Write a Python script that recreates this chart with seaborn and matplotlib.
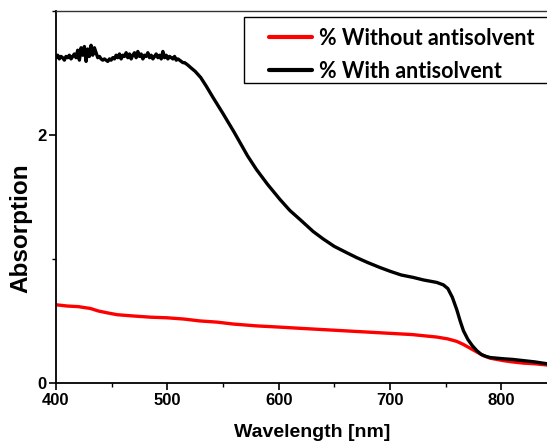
import numpy as np
import pandas as pd
import seaborn as sns
import matplotlib.pyplot as plt
from matplotlib.ticker import MultipleLocator
from matplotlib.lines import Line2D
from matplotlib.patches import Rectangle

# ---- data ----
# noisy plateau, 400-520 nm (1.5 nm steps)
wl_plateau = [400.0, 401.5, 403.0, 404.5, 406.0, 407.5, 409.0, 410.5, 412.0, 413.5,
              415.0, 416.5, 418.0, 419.5, 421.0, 422.5, 424.0, 425.5, 427.0, 428.5,
              430.0, 431.5, 433.0, 434.5, 436.0, 437.5, 439.0, 440.5, 442.0, 443.5,
              445.0, 446.5, 448.0, 449.5, 451.0, 452.5, 454.0, 455.5, 457.0, 458.5,
              460.0, 461.5, 463.0, 464.5, 466.0, 467.5, 469.0, 470.5, 472.0, 473.5,
              475.0, 476.5, 478.0, 479.5, 481.0, 482.5, 484.0, 485.5, 487.0, 488.5,
              490.0, 491.5, 493.0, 494.5, 496.0, 497.5, 499.0, 500.5, 502.0, 503.5,
              505.0, 506.5, 508.0, 509.5, 511.0, 512.5, 514.0, 515.5, 517.0, 518.5]
abs_plateau = [2.62, 2.64, 2.61, 2.63, 2.62, 2.60, 2.63, 2.62, 2.64, 2.61,
               2.63, 2.65, 2.62, 2.68, 2.60, 2.70, 2.64, 2.71, 2.59, 2.69,
               2.63, 2.72, 2.64, 2.70, 2.66, 2.62, 2.63, 2.61, 2.60, 2.61,
               2.60, 2.59, 2.61, 2.60, 2.62, 2.61, 2.64, 2.62, 2.65, 2.61,
               2.64, 2.63, 2.66, 2.62, 2.65, 2.61, 2.64, 2.66, 2.62, 2.67,
               2.63, 2.65, 2.61, 2.64, 2.63, 2.66, 2.62, 2.64, 2.61, 2.63,
               2.65, 2.62, 2.64, 2.61, 2.67, 2.62, 2.64, 2.61, 2.63, 2.62,
               2.61, 2.63, 2.60, 2.61, 2.60, 2.59, 2.58, 2.58, 2.57, 2.56]
# smooth part, 520-846 nm
wl_tail = [521, 525, 530, 535, 541, 550, 560, 572, 580, 590, 601, 610, 620, 631, 640, 650,
           661, 670, 680, 691, 700, 710, 721, 730, 742, 748, 752, 756, 760, 763,
           766, 770, 774, 778, 782, 786, 790, 796, 802, 810, 820, 830, 841, 846]
abs_tail = [2.54, 2.51, 2.46, 2.39, 2.30, 2.17, 2.02, 1.83, 1.72, 1.60, 1.48, 1.39, 1.31, 1.22,
            1.16, 1.10, 1.05, 1.01, 0.97, 0.93, 0.90, 0.87, 0.85, 0.83, 0.81, 0.79,
            0.76, 0.69, 0.59, 0.50, 0.42, 0.35, 0.30, 0.26, 0.23, 0.215, 0.205, 0.20,
            0.195, 0.19, 0.18, 0.17, 0.155, 0.15]

wl_without = [400, 410, 420, 431, 438, 446, 455, 469, 485, 500, 515, 529, 545, 559, 580,
              601, 620, 640, 660, 680, 700, 720, 742, 752, 760, 766, 772, 778, 784, 790,
              796, 802, 810, 820, 830, 841, 846]
abs_without = [0.63, 0.62, 0.615, 0.60, 0.58, 0.565, 0.55, 0.54, 0.53, 0.525, 0.515, 0.50,
               0.49, 0.475, 0.46, 0.45, 0.44, 0.43, 0.42, 0.41, 0.40, 0.39, 0.37, 0.355,
               0.335, 0.31, 0.28, 0.25, 0.22, 0.20, 0.19, 0.18, 0.17, 0.16, 0.155, 0.145, 0.14]

labels = ["% Without antisolvent", "% With antisolvent"]
colors = ["#ff0000", "#000000"]

df = pd.concat([
    pd.DataFrame({"Wavelength": wl_without, "Absorption": abs_without, "Sample": labels[0]}),
    pd.DataFrame({"Wavelength": wl_plateau + wl_tail, "Absorption": abs_plateau + abs_tail,
                  "Sample": labels[1]}),
])

sns.set_style("ticks")
plt.rcParams["font.family"] = ["Liberation Sans", "DejaVu Sans"]
plt.rcParams["text.color"] = "black"
plt.rcParams["axes.labelcolor"] = "black"
plt.rcParams["xtick.color"] = "black"
plt.rcParams["ytick.color"] = "black"

fig = plt.figure(figsize=(5.47, 4.43), dpi=100)
W, H = 547, 443
ax = fig.add_axes([56 / W, 1 - 383 / H, 501 / W, 372.5 / H])

sns.lineplot(data=df, x="Wavelength", y="Absorption", hue="Sample",
             palette=dict(zip(labels, colors)),
             linewidth=2.4, ax=ax, legend=False, sort=True)

ax.set_xlim(400, 850)
ax.set_ylim(0, 3)
ax.xaxis.set_major_locator(MultipleLocator(100))
ax.xaxis.set_minor_locator(MultipleLocator(50))
ax.yaxis.set_major_locator(MultipleLocator(2))
ax.yaxis.set_minor_locator(MultipleLocator(1))
ax.tick_params(axis="both", which="major", direction="out", length=5, width=1.2,
               labelsize=12, pad=2, colors="black")
ax.tick_params(axis="both", which="minor", direction="out", length=3, width=1.0)
for lab in ax.get_xticklabels() + ax.get_yticklabels():
    lab.set_fontweight("bold")

ax.set_xlabel("Wavelength [nm]", fontsize=14, fontweight="bold")
ax.set_ylabel("Absorption", fontsize=17.5, fontweight="bold")
ax.xaxis.set_label_coords(0.511, -0.11)
ax.yaxis.set_label_coords(-0.047, 0.415)

for s in ["left", "bottom"]:
    ax.spines[s].set_linewidth(1.3)
    ax.spines[s].set_color("black")
ax.spines["top"].set_linewidth(1.0)
ax.spines["top"].set_color("#333333")

# legend: frame drawn as a rectangle, entries through fig.legend
fig.add_artist(Rectangle((244 / W, 1 - 83 / H), 320 / W, 66 / H, transform=fig.transFigure,
                         facecolor="white", edgecolor="black", linewidth=1.0, zorder=5))
handles = [Line2D([], [], color=c, lw=3) for c in colors]
leg = fig.legend(handles, labels, loc="upper left", bbox_to_anchor=(269 / W, 1 - 28 / H),
                 frameon=False, handlelength=2.0, handletextpad=0.33,
                 borderpad=0, borderaxespad=0, labelspacing=0.55,
                 prop={"family": ["Lato", "DejaVu Sans"], "weight": "bold", "size": 15.5})
leg.set_zorder(6)

fig.savefig("out.png", dpi=100)
